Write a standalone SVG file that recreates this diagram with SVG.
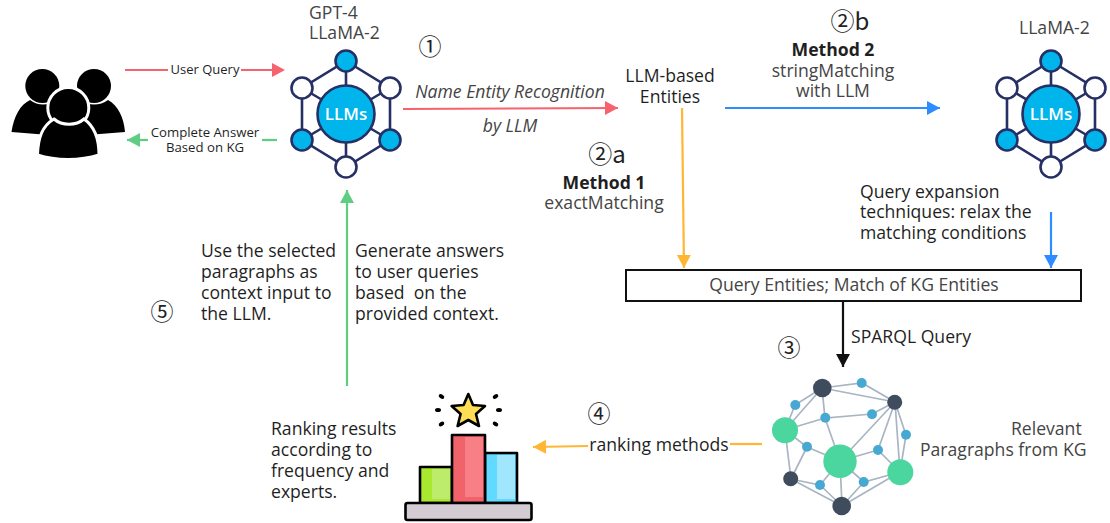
<svg xmlns="http://www.w3.org/2000/svg" xmlns:xlink="http://www.w3.org/1999/xlink" width="1110" height="523" viewBox="0 0 1110 523">
<style>
text{font-family:"Open Sans","Noto Sans",sans-serif;fill:#1f1f1f}
.t16{font-size:17.6px}.t13{font-size:13.2px}.c{text-anchor:middle}.g{fill:#444}
.num{font-family:"Noto Sans CJK SC","DejaVu Sans",sans-serif;font-size:23px;fill:#222}
.conn{fill:none}
.e{stroke:#a9b5c3;stroke-width:1.7;fill:none}
.hl{stroke:#263065;stroke-width:2.6;fill:none}
.hb{fill:#00b4ec;stroke:#263065;stroke-width:2.6}
.hw{fill:#fff;stroke:#263065;stroke-width:2.6}
.s{fill:#47a9d1}.d{fill:#3e4c5e}.gr{fill:#4bd6a0}
.o{stroke:#000;stroke-width:2.6;stroke-linejoin:round}
</style>
<defs>
<marker id="mp" markerUnits="userSpaceOnUse" markerWidth="14" markerHeight="16" refX="13" refY="7" orient="auto"><path d="M0 0L13 7L0 14Z" fill="#f7626f"/></marker>
<marker id="mg" markerUnits="userSpaceOnUse" markerWidth="14" markerHeight="16" refX="13" refY="7" orient="auto"><path d="M0 0L13 7L0 14Z" fill="#5fce82"/></marker>
<marker id="mb" markerUnits="userSpaceOnUse" markerWidth="14" markerHeight="16" refX="13" refY="7" orient="auto"><path d="M0 0L13 7L0 14Z" fill="#2d8cff"/></marker>
<marker id="my" markerUnits="userSpaceOnUse" markerWidth="14" markerHeight="16" refX="13" refY="7" orient="auto"><path d="M0 0L13 7L0 14Z" fill="#ffb733"/></marker>
<marker id="mk" markerUnits="userSpaceOnUse" markerWidth="14" markerHeight="16" refX="13" refY="7" orient="auto"><path d="M0 0L13 7L0 14Z" fill="#111"/></marker>
<g id="llm">
<path class="hl" d="M0-53L44-26V26L0 53L-44 26V-26ZM0-53V53M-44-26L44 26M-44 26L44-26"/>
<circle class="hb" cy="-53" r="10.5"/><circle class="hw" cx="44" cy="-26" r="10.5"/><circle class="hb" cx="44" cy="26" r="10.5"/><circle class="hw" cy="53" r="10.5"/><circle class="hb" cx="-44" cy="26" r="10.5"/><circle class="hw" cx="-44" cy="-26" r="10.5"/>
<circle class="hb" r="28.5"/>
<text class="c" y="6" style="font-size:17px;font-weight:600;fill:#fff">LLMs</text>
</g>
</defs>

<g id="connectors" class="conn">
<path d="M125 70H168M241 70H272" stroke="#f7626f" stroke-width="2.200"/><path d="M272 63L285 70L272 77Z" fill="#f7626f"/>
<path d="M148 140H127" stroke="#5fce82" stroke-width="2.200" marker-end="url(#mg)"/><path d="M262 140H277" stroke="#5fce82" stroke-width="2.200"/>
<path d="M403 109L618 108" stroke="#f7626f" stroke-width="2.200" marker-end="url(#mp)"/>
<path d="M725 108H940" stroke="#2d8cff" stroke-width="2.200" marker-end="url(#mb)"/>
<path d="M682 108L684 268" stroke="#ffb733" stroke-width="2.200" marker-end="url(#my)"/>
<path d="M1051 212V268" stroke="#2d8cff" stroke-width="2.200" marker-end="url(#mb)"/>
<path d="M843 301V367" stroke="#111" stroke-width="2.200" marker-end="url(#mk)"/>
<path d="M347 386V190" stroke="#5fce82" stroke-width="2.200" marker-end="url(#mg)"/>
<path d="M588 446L533 447" stroke="#ffb733" stroke-width="2.200" marker-end="url(#my)"/><path d="M762 444H730" stroke="#ffb733" stroke-width="2.200"/>
</g>

<g id="users">
<circle cx="42.3" cy="86" r="17"/><circle cx="94" cy="86" r="17"/>
<path d="M11.500 132C14 116 20 105 30 100C38 106 48 106 56 100C66 105 72 116 74 137Z"/>
<path d="M62 137C64 116 70 105 80 100C88 106 100 106 108 100C118 105 124 118 125 132Z"/>
<circle cx="68.300" cy="108" r="20.500" fill="#000" stroke="#fff" stroke-width="3"/>
<path d="M37.500 155C38 138 42 126 54 119C62 126 76 126 84 119C94 126 99 138 99 155C80 161 56 161 37.500 155Z" stroke="#fff" stroke-width="3"/>
</g>

<g id="node-llm-left">
<use xlink:href="#llm" href="#llm" x="346" y="114"/>
<text class="t16 g" x="309" y="19">GPT-4</text><text class="t16 g" x="309" y="39">LLaMA-2</text>
</g>
<g id="node-llm-right">
<use xlink:href="#llm" href="#llm" x="1051" y="114"/>
<text class="t16 g" x="1019" y="34">LLaMA-2</text>
</g>

<g id="labels">
<text class="t13 c" style="font-size:13px" x="205" y="74">User Query</text>
<text class="t13 c" x="205" y="137">Complete Answer</text><text class="t13 c" x="205" y="152">Based on KG</text>
<text class="num c" x="430" y="55">①</text>
<text class="t16 c g" x="510" y="98" font-style="italic">Name Entity Recognition</text>
<text class="t16 c g" x="510" y="132" font-style="italic">by LLM</text>
<text class="t16 c" x="670" y="82">LLM-based</text><text class="t16 c" x="670" y="103">Entities</text>
<text class="num c" x="607" y="163" style="font-size:24px">②a</text>
<text class="t16 c" x="604" y="189" font-weight="700">Method 1</text>
<text class="t16 c g" x="604" y="209">exactMatching</text>
<text class="num c" x="850" y="30" style="font-size:24px">②b</text>
<text class="t16 c" x="833" y="56" font-weight="700">Method 2</text>
<text class="t16 c g" x="833" y="77">stringMatching</text>
<text class="t16 c g" x="833" y="97">with LLM</text>
<text class="t16" x="860" y="198">Query expansion</text><text class="t16" x="860" y="218">techniques: relax the</text><text class="t16" x="860" y="239">matching conditions</text>
<text class="t16" x="355" y="257">Generate answers</text><text class="t16" x="355" y="278">to user queries</text><text class="t16" x="355" y="299" xml:space="preserve">based  on the</text><text class="t16" x="355" y="320">provided context.</text>
<text class="t16" x="201" y="257">Use the selected</text><text class="t16" x="201" y="278">paragraphs as</text><text class="t16" x="201" y="299">context input to</text><text class="t16" x="201" y="320">the LLM.</text>
<text class="num c" x="162" y="320">⑤</text>
<text class="t16" x="851" y="343">SPARQL Query</text>
<text class="num c" x="789" y="356">③</text>
<text class="num c" x="599" y="422">④</text>
<text class="t16 c" x="659" y="451">ranking methods</text>
<text class="t16" x="271" y="435">Ranking results</text><text class="t16" x="271" y="456">according to</text><text class="t16" x="271" y="477">frequency and</text><text class="t16" x="271" y="498">experts.</text>
<text class="t16 g" x="1011" y="435" text-anchor="start">Relevant</text><text class="t16 g" x="920" y="456">Paragraphs from KG</text>
</g>

<g id="node-query-entities">
<rect x="626" y="270" width="455" height="31" fill="#fff" stroke="#111" stroke-width="2"/>
<text class="t16 c g" x="854" y="291">Query Entities; Match of KG Entities</text>
</g>

<g id="node-kg">
<path class="e" d="M822 388L862 383L895 402L822 388L825 418L872 414L895 402M822 388L795 405L785 430L822 388M785 430L825 418L840 461M785 430L807 447L840 461M785 430L791 479L807 447M895 402L840 461M895 402L878 450L900 472L906 435L895 402L900 472M895 402L872 414M878 450L840 461M840 461L820 485L791 479L842 506L820 485M840 461L842 506M840 461L864 482L900 472L842 506L864 482L842 506M791 479L842 506"/>
<circle class="d" cx="822.300" cy="388" r="9.300"/><circle class="d" cx="894.700" cy="402.300" r="7.500"/><circle class="d" cx="790.700" cy="478.700" r="7.500"/><circle class="d" cx="841.700" cy="506" r="9.300"/>
<circle class="gr" cx="785" cy="430.300" r="13"/><circle class="gr" cx="840" cy="461.300" r="16.700"/><circle class="gr" cx="900.300" cy="472.300" r="13"/>
<circle class="s" cx="861.700" cy="383" r="5"/><circle class="s" cx="795.300" cy="405" r="5"/><circle class="s" cx="825.300" cy="417.700" r="5"/><circle class="s" cx="872" cy="414.300" r="5"/><circle class="s" cx="906" cy="434.700" r="5"/><circle class="s" cx="807" cy="446.700" r="5"/><circle class="s" cx="878" cy="450" r="5"/><circle class="s" cx="820" cy="485" r="5"/><circle class="s" cx="863.700" cy="482" r="5"/>
</g>

<g id="node-ranking">
<rect class="o" x="420" y="467" width="32" height="36" fill="#a8e82e"/><rect x="432" y="469" width="18" height="30" fill="#bdec6c"/>
<rect class="o" x="485" y="453" width="32" height="50" fill="#62d9ff"/><rect x="497" y="455" width="18" height="44" fill="#a0e6fd"/>
<rect class="o" x="452" y="435" width="33" height="68" fill="#f0636a"/><rect x="465" y="437" width="18" height="60" fill="#f77f85"/>
<rect class="o" x="405.500" y="503" width="126" height="17" rx="2" fill="#d3cdd3"/>
<path class="o" d="M468.300 394L473 405L485 406L476 414L479 426L468.300 420L457.600 426L460.600 414L451.600 406L463.600 405Z" fill="#ffde55"/>
<g fill="#000"><ellipse cx="441.500" cy="396.500" rx="3" ry="2" transform="rotate(30 441.500 396.500)"/><ellipse cx="438" cy="410" rx="3" ry="2"/><ellipse cx="441.500" cy="424" rx="3" ry="2" transform="rotate(-30 441.500 424)"/><ellipse cx="495.500" cy="396.500" rx="3" ry="2" transform="rotate(-30 495.500 396.500)"/><ellipse cx="499" cy="410" rx="3" ry="2"/><ellipse cx="495.500" cy="424" rx="3" ry="2" transform="rotate(30 495.500 424)"/></g>
</g>
</svg>
